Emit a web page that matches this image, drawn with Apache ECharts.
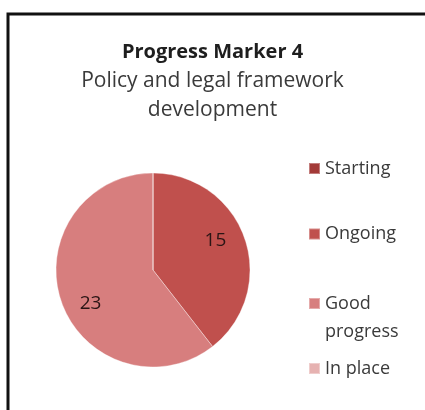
<!DOCTYPE html>
<html><head><meta charset="utf-8">
<script src="https://cdn.jsdelivr.net/npm/echarts@6/dist/echarts.min.js"></script>
<style>html,body{margin:0;padding:0;background:#fff}#c{width:425px;height:410px}</style>
</head><body><div id="c"></div>
<script>
var categories = ['Starting', 'Ongoing', 'Good progress', 'In place'];
var legendLabels = ['Starting', 'Ongoing', 'Good\nprogress', 'In place'];
var values = [0, 15, 23, 0];
var colors = ['#a33a38', '#c0504d', '#d77e7e', '#e6b2b1'];
var titleText = 'Progress Marker 4';
var subtitleText = 'Policy and legal framework\ndevelopment';

var chart = echarts.init(document.getElementById('c'), null, {renderer: 'canvas'});
var data = categories.map(function (c, i) { return {name: c, value: values[i], itemStyle: {color: colors[i]}}; });
var symbolCenters = [168.5, 234, 303.5, 368.5];
var LH = 28;
var legends = categories.map(function (c, i) {
  var lines = legendLabels[i].split('\n');
  var n = lines.length;
  var shown = new Array(n).join('\u00a0\n') + legendLabels[i];
  var totalLines = 2 * n - 1;
  return {
    left: 308, top: symbolCenters[i] - totalLines * LH / 2, orient: 'vertical', data: [c],
    itemWidth: 11, itemHeight: 11, icon: 'rect', selectedMode: false, padding: 0,
    formatter: function () { return shown; },
    textStyle: {fontFamily: 'Open Sans', fontSize: 18, color: '#3a3a3a', lineHeight: LH}
  };
});
chart.setOption({
  backgroundColor: '#fff',
  animation: false,
  title: {
    text: titleText, subtext: subtitleText, left: 'center', top: 33, itemGap: 1,
    textStyle: {fontFamily: 'Open Sans', fontSize: 20, fontWeight: 'bold', color: '#1e1e1e', lineHeight: 28},
    subtextStyle: {fontFamily: 'Open Sans', fontSize: 21, color: '#3a3a3a', lineHeight: 29, align: 'center'}
  },
  legend: legends,
  graphic: [{type: 'rect', shape: {x: 8, y: 14, width: 440, height: 420}, style: {fill: 'none', stroke: '#111', lineWidth: 3}, z: 100}],
  series: [
    {type: 'pie', center: [153, 270], radius: [0, 97], startAngle: 90, clockwise: true,
     data: data, label: {show: false}, labelLine: {show: false},
     itemStyle: {borderColor: 'rgba(255,255,255,0.35)', borderWidth: 1}, emphasis: {disabled: true}},
    {type: 'pie', center: [153, 272], radius: [38, 96], startAngle: 98, clockwise: true,
     data: categories.map(function (c, i) { return {name: c + ' ', value: values[i]}; }),
     itemStyle: {color: 'rgba(0,0,0,0)'}, silent: true, legendHoverLink: false,
     label: {show: true, position: 'inside', fontFamily: 'Open Sans', fontSize: 19, color: '#2a1515',
       formatter: function (p) { return p.value ? String(p.value) : ''; }},
     labelLine: {show: false}, emphasis: {disabled: true}}
  ]
});
</script></body></html>
